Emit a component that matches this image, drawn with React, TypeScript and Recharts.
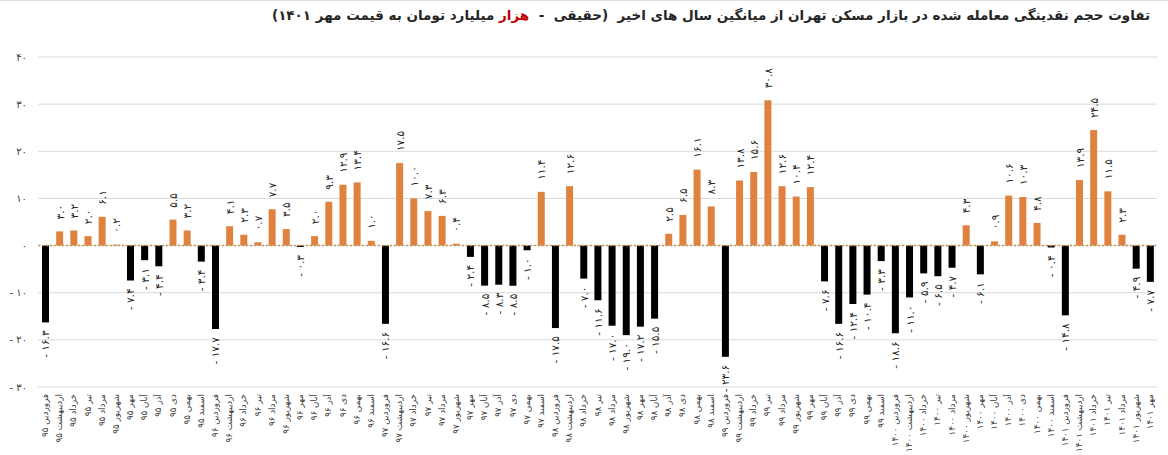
import React from 'react';
import { BarChart, Bar, XAxis, YAxis, CartesianGrid, ReferenceLine, Cell, LabelList } from 'recharts';

const FA_DIGITS = '۰۱۲۳۴۵۶۷۸۹';
const toFa = (s: string) => s.replace(/\d/g, (d) => FA_DIGITS[Number(d)]);

const MONTHS = ['فروردین', 'اردیبهشت', 'خرداد', 'تیر', 'مرداد', 'شهریور', 'مهر', 'آبان', 'آذر', 'دی', 'بهمن', 'اسفند'];
const YEARS = ['95', '96', '97', '98', '99', '1400', '1401'];

const V95 = [-16.3, 3.0, 3.2, 2.0, 6.1, 0.2, -7.4, -3.1, -4.4, 5.5, 3.2, -3.4];
const V96 = [-17.7, 4.1, 2.3, 0.7, 7.7, 3.5, -0.3, 2.0, 9.3, 12.9, 13.4, 1.0];
const V97 = [-16.6, 17.5, 10.0, 7.3, 6.3, 0.4, -2.4, -8.5, -8.3, -8.5, -1.0, 11.4];
const V98 = [-17.5, 12.6, -7.0, -11.6, -17.0, -19.0, -17.2, -15.5, 2.5, 6.5, 16.1, 8.3];
const V99 = [-23.6, 13.8, 15.6, 30.8, 12.6, 10.4, 12.4, -7.6, -16.6, -12.4, -10.4, -3.3];
const V1400 = [-18.6, -11.0, -5.9, -6.5, -4.7, 4.3, -6.1, 0.9, 10.6, 10.3, 4.8, -0.4];
const V1401 = [-14.8, 13.9, 24.5, 11.5, 2.3, -4.9, -7.7];

const YEAR_VALUES = [V95, V96, V97, V98, V99, V1400, V1401];
const Y_TICKS = [-30, -20, -10, 0, 10, 20, 30, 40];

const data = YEAR_VALUES.flatMap((vals, yi) =>
  vals.map((v, mi) => ({ name: `${MONTHS[mi]} ${toFa(YEARS[yi])}`, value: v }))
);

const POS = '#E0823F';
const NEG = '#000000';
const FONT = '"DejaVu Sans", sans-serif';

const fmtVal = (v: number) => (v < 0 ? `- ${toFa(Math.abs(v).toFixed(1))}` : toFa(v.toFixed(1)));
const fmtTick = (v: number) => (v < 0 ? `- ${toFa(String(Math.abs(v)))}` : toFa(String(v)));

const XTick = (props: any) => {
  const { x, y, payload } = props;
  const ay = y - 1;
  return (
    <text x={x} y={ay} transform={`rotate(-90 ${x} ${ay})`} textAnchor="end" dominantBaseline="central"
      fontSize={8.8} fill="#404040" fontFamily={FONT}>
      {payload.value}
    </text>
  );
};

const YTick = (props: any) => {
  const { x, y, payload } = props;
  return (
    <text x={x - 3} y={y} textAnchor="end" dominantBaseline="central" fontSize={10} fill="#404040" fontFamily={FONT}>
      {fmtTick(payload.value)}
    </text>
  );
};

const ValueLabel = (props: any) => {
  const vb = props.viewBox || {};
  const x = props.x ?? vb.x;
  const y = props.y ?? vb.y;
  const width = props.width ?? vb.width;
  const height = props.height ?? vb.height;
  const value = Number(props.value);
  const cx = x + width / 2;
  const top = Math.min(y, y + height);
  const bottom = Math.max(y, y + height);
  const pos = value >= 0;
  const ay = pos ? top - 12 : bottom + 8;
  return (
    <text x={cx} y={ay} transform={`rotate(-90 ${cx} ${ay})`} textAnchor={pos ? 'start' : 'end'}
      dominantBaseline="central" fontSize={10.5} fill="#262626" fontFamily={FONT}>
      {fmtVal(value)}
    </text>
  );
};

export default function App() {
  return (
    <div style={{ position: 'absolute', left: 0, top: 0, width: 1168, height: 455, background: '#fff', overflow: 'hidden' }}>
      <div style={{ position: 'absolute', left: 0, top: 0, width: 1168, height: 1, background: '#e0e0e0' }} />
      <div
        style={{
          position: 'absolute', right: 18, top: 7, direction: 'rtl', whiteSpace: 'pre',
          fontFamily: FONT, fontWeight: 'bold', fontSize: 13.5, color: '#262626',
        }}
      >
        {'تفاوت حجم نقدینگی معامله شده در بازار مسکن تهران از میانگین سال های اخیر  (حقیقی  -  '}
        <span style={{ color: '#C00000' }}>هزار</span>
        {' میلیارد تومان به قیمت مهر ۱۴۰۱)'}
      </div>
      <div style={{ position: 'absolute', left: 0, top: 0 }}>
        <BarChart width={1168} height={455} data={data} margin={{ top: 57, right: 11, bottom: 8, left: 0 }} barCategoryGap={0}>
          <CartesianGrid vertical={false} stroke="#d9d9d9" />
          <XAxis dataKey="name" interval={0} tickLine={false} axisLine={false} height={60} tick={<XTick />} />
          <YAxis domain={[-30, 40]} ticks={Y_TICKS} width={38} tickLine={false} axisLine={false} tick={<YTick />} />
          <Bar dataKey="value" barSize={7} isAnimationActive={false}>
            {data.map((d, i) => (
              <Cell key={i} fill={d.value >= 0 ? POS : NEG} />
            ))}
            <LabelList dataKey="value" content={<ValueLabel />} />
          </Bar>
          <ReferenceLine y={0} stroke="#C9955F" strokeWidth={1.5} strokeDasharray="2 2" />
        </BarChart>
      </div>
    </div>
  );
}
